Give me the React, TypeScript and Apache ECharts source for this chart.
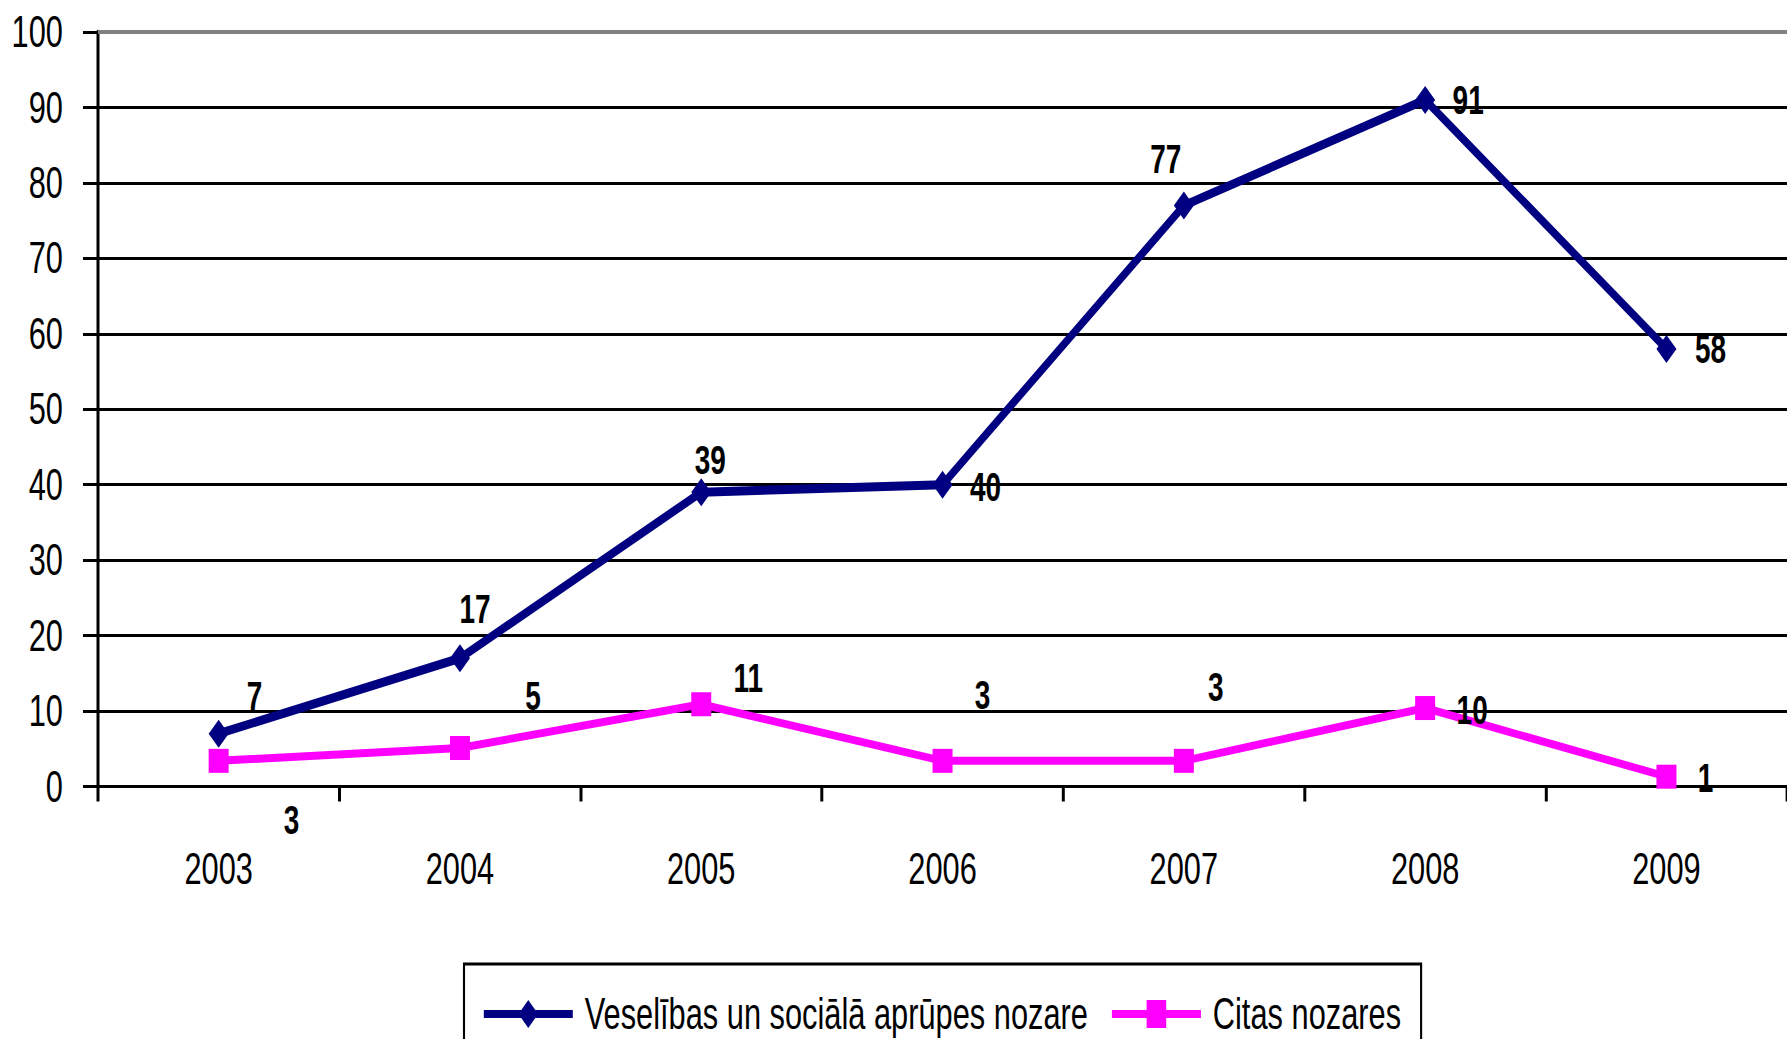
import React, { useEffect, useRef } from "react";
import * as echarts from "echarts";

const years = ["2003", "2004", "2005", "2006", "2007", "2008", "2009"];
const healthValues = [7, 17, 39, 40, 77, 91, 58];
const otherValues = [3.4, 5.1, 10.9, 3.4, 3.4, 10.4, 1.3];
const yTicks = { min: 0, max: 100, interval: 10 };
const seriesNames = ["Veselības un sociālā aprūpes nozare", "Citas nozares"];

// label offsets (layout only, in screen pixels)
const healthLabelOffsets = [
  [36, -38], [15, -49], [9, -32], [43, 2], [-18, -46], [43, 0], [44, 0],
];
const otherLabelOffsets = [
  [73, 59], [73, -52], [47, -26], [40, -66], [32, -74], [47, 2], [39, 1],
];

const SX = 0.7;
const W = 1787;
const H = 1039;
const FONT = "'Liberation Sans', Arial, sans-serif";

export default function App() {
  const ref = useRef<HTMLDivElement>(null);
  useEffect(() => {
    if (!ref.current) return;
    const chart = echarts.init(ref.current, null, { renderer: "svg" });
    const ux = (px: number) => px / SX;
    const mkData = (vals: number[], offs: number[][]) =>
      vals.map((v, i) => ({
        value: v,
        label: { position: "inside", offset: [ux(offs[i][0]), offs[i][1]] },
      }));
    const labelStyle = {
      show: true,
      color: "#000",
      fontWeight: "bold",
      fontSize: 40,
      fontFamily: FONT,
      formatter: (p: any) => String(Math.round(p.value)),
    };
    chart.setOption({
      animation: false,
      backgroundColor: "#ffffff",
      textStyle: { fontFamily: FONT },
      grid: { left: ux(98), top: 32, width: ux(1694), bottom: 252.5, containLabel: false },
      legend: {
        left: ux(464),
        top: 964,
        orient: "horizontal",
        borderColor: "#000",
        borderWidth: 3,
        padding: [28, ux(20), 40, ux(17)],
        itemWidth: ux(89),
        itemHeight: 35,
        itemGap: ux(21),
        lineStyle: { width: 8 },
        textStyle: { fontFamily: FONT, fontSize: 44, color: "#000", padding: [0, 0, 0, 12] },
        data: seriesNames,
      },
      xAxis: {
        type: "category",
        data: years,
        boundaryGap: true,
        axisLine: { lineStyle: { color: "#000", width: 3 } },
        axisTick: { show: true, length: 15, lineStyle: { color: "#000", width: ux(3) } },
        axisLabel: { color: "#000", fontSize: 44, fontFamily: FONT, margin: 60 },
        splitLine: { show: false },
      },
      yAxis: {
        type: "value",
        min: yTicks.min,
        max: yTicks.max,
        interval: yTicks.interval,
        axisLine: { show: true, lineStyle: { color: "#000", width: ux(3) } },
        axisTick: { show: true, length: ux(15), lineStyle: { color: "#000", width: 3 } },
        axisLabel: { color: "#000", fontSize: 44, fontFamily: FONT, margin: ux(35) },
        splitLine: { show: true, lineStyle: { color: "#000", width: 3 } },
      },
      series: [
        {
          name: seriesNames[0],
          type: "line",
          data: mkData(healthValues, healthLabelOffsets),
          symbol: "diamond",
          symbolSize: [ux(20), 28],
          lineStyle: { color: "#000080", width: 9 },
          itemStyle: { color: "#000080" },
          label: labelStyle,
          markLine: {
            silent: true,
            symbol: "none",
            label: { show: false },
            lineStyle: { color: "#808080", width: 4, type: "solid" },
            data: [{ yAxis: yTicks.max }],
          },
          z: 3,
        },
        {
          name: seriesNames[1],
          type: "line",
          data: mkData(otherValues, otherLabelOffsets),
          symbol: "rect",
          symbolSize: [ux(20), 24],
          lineStyle: { color: "#FF00FF", width: 8 },
          itemStyle: { color: "#FF00FF" },
          label: labelStyle,
          z: 2,
        },
      ],
    });
    return () => chart.dispose();
  }, []);
  return (
    <div
      style={{
        position: "fixed",
        left: 0,
        top: 0,
        width: W,
        height: H,
        overflow: "hidden",
        background: "#fff",
      }}
    >
      <div
        ref={ref}
        style={{
          width: W / SX,
          height: H,
          transform: `scaleX(${SX})`,
          transformOrigin: "0 0",
        }}
      />
    </div>
  );
}
